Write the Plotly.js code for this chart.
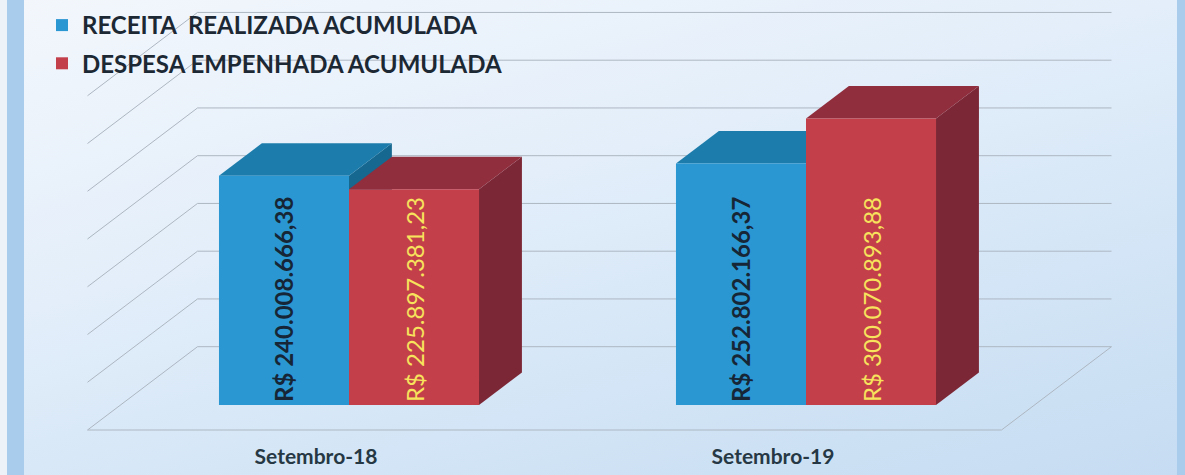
<!DOCTYPE html>
<html>
<head>
<meta charset="utf-8">
<script src="https://cdn.plot.ly/plotly-3.0.1.min.js"></script>
<style>
  html, body { margin: 0; padding: 0; }
  body {
    width: 1185px; height: 475px; overflow: hidden;
    background:
      linear-gradient(to right, #edf2f8 0px, #edf2f8 7px, #a9cbec 7px, #a9cbec 24px, rgba(0,0,0,0) 24px, rgba(0,0,0,0) 1177px, #a9cbec 1177px),
      linear-gradient(165deg, #f3f7fc 0%, #e3eefa 40%, #d3e5f6 70%, #c6dcf2 100%);
  }
  #chart { width: 1185px; height: 475px; }
</style>
</head>
<body>
<div id="chart"></div>
<script>
// ---- data ----
const CATEGORIES = ['Setembro-18', 'Setembro-19'];
const RECEITA = [240008666.38, 252802166.37];
const DESPESA = [225897381.23, 300070893.88];
const SERIES_NAMES = ['RECEITA\u00a0 REALIZADA ACUMULADA', 'DESPESA EMPENHADA ACUMULADA'];
const GRID_VALUES = [0, 50e6, 100e6, 150e6, 200e6, 250e6, 300e6, 350e6];

// ---- geometry of the oblique 3D view ----
const W = 1185, H = 475;
const CAT_PX = 457, CAT0_PX = 316, FLOOR_Y = 430, PX_PER_VAL = 0.955e-6;
const DEPTH_PX = [110, 83.3];
const BAR_D0 = 0.30, BAR_D1 = 0.69, BAR_W = 0.2845;
const XRANGE = [-CAT0_PX / CAT_PX, (W - CAT0_PX) / CAT_PX];
const YRANGE = [(FLOOR_Y - H) / PX_PER_VAL, FLOOR_Y / PX_PER_VAL];
const DXU = DEPTH_PX[0] / CAT_PX;
const DYU = DEPTH_PX[1] / PX_PER_VAL;
function proj(xc, v, d) { return [xc + d * DXU, v + d * DYU]; }
function path(pts) { return 'M' + pts.map(p => p[0] + ',' + p[1]).join('L') + 'Z'; }

const COLORS = {
  blue: { front: '#2a97d3', top: '#1c7cab', side: '#176890' },
  red:  { front: '#c3404b', top: '#902e3d', side: '#7c2735' }
};

function fmtBR(v) {
  const parts = v.toFixed(2).split('.');
  return parts[0].replace(/\B(?=(\d{3})+(?!\d))/g, '.') + ',' + parts[1];
}

// ---- back wall, side wall, floor ----
const shapes = [];
const gridLine = { color: '#adb7c2', width: 1 };
const XL = -0.5, XR = CATEGORIES.length - 0.5;
GRID_VALUES.forEach(v => {
  const a = proj(XL, v, 1), b = proj(XR, v, 1), c = proj(XL, v, 0);
  shapes.push({ type: 'line', xref: 'x', yref: 'y', layer: 'below', x0: a[0], y0: a[1], x1: b[0], y1: b[1], line: gridLine });
  shapes.push({ type: 'line', xref: 'x', yref: 'y', layer: 'below', x0: a[0], y0: a[1], x1: c[0], y1: c[1], line: gridLine });
});
(function () {
  const f0 = proj(XL, 0, 0), f1 = proj(XR, 0, 0), f2 = proj(XR, 0, 1);
  shapes.push({ type: 'line', xref: 'x', yref: 'y', layer: 'below', x0: f0[0], y0: f0[1], x1: f1[0], y1: f1[1], line: gridLine });
  shapes.push({ type: 'line', xref: 'x', yref: 'y', layer: 'below', x0: f1[0], y0: f1[1], x1: f2[0], y1: f2[1], line: gridLine });
})();

// ---- top and side faces of each column ----
function boxFaces(a, b, v, col) {
  const side = [proj(b, 0, BAR_D0), proj(b, v, BAR_D0), proj(b, v, BAR_D1), proj(b, 0, BAR_D1)];
  const top = [proj(a, v, BAR_D0), proj(b, v, BAR_D0), proj(b, v, BAR_D1), proj(a, v, BAR_D1)];
  shapes.push({ type: 'path', xref: 'x', yref: 'y', layer: 'below', path: path(side), fillcolor: col.side, line: { width: 0 } });
  shapes.push({ type: 'path', xref: 'x', yref: 'y', layer: 'below', path: path(top), fillcolor: col.top, line: { width: 0 } });
}
CATEGORIES.forEach((c, i) => {
  boxFaces(i - BAR_W, i, RECEITA[i], COLORS.blue);
  boxFaces(i, i + BAR_W, DESPESA[i], COLORS.red);
});

// ---- front faces (bars) ----
const barX = CATEGORIES.map((c, i) => i + BAR_D0 * DXU);
const barBase = CATEGORIES.map(() => BAR_D0 * DYU);
const traces = [
  {
    type: 'bar', name: SERIES_NAMES[0], legendgroup: 'a',
    x: barX, y: RECEITA, base: barBase, width: BAR_W, offset: -BAR_W,
    marker: { color: COLORS.blue.front, line: { width: 0 } },
    text: RECEITA.map(v => 'R$ ' + fmtBR(v)),
    textposition: 'inside', textangle: -90, insidetextanchor: 'start',
    textfont: { family: 'Lato', size: 24, color: '#172636', weight: 'bold' },
    hoverinfo: 'skip'
  },
  {
    type: 'bar', name: SERIES_NAMES[1], legendgroup: 'b',
    x: barX, y: DESPESA, base: barBase, width: BAR_W, offset: 0,
    marker: { color: COLORS.red.front, line: { width: 0 } },
    text: DESPESA.map(v => 'R$ ' + fmtBR(v)),
    textposition: 'inside', textangle: -90, insidetextanchor: 'start',
    textfont: { family: 'Lato', size: 24, color: '#f7e35c', weight: 'normal' },
    hoverinfo: 'skip'
  }
];

const layout = {
  width: W, height: H,
  margin: { l: 0, r: 0, t: 0, b: 0 },
  paper_bgcolor: 'rgba(0,0,0,0)', plot_bgcolor: 'rgba(0,0,0,0)',
  barmode: 'overlay', hovermode: false,
  showlegend: true,
  legend: {
    x: 42 / W, y: 1 - 3 / H, xanchor: 'left', yanchor: 'top',
    bgcolor: 'rgba(0,0,0,0)', borderwidth: 0,
    traceorder: 'grouped', tracegroupgap: 4,
    font: { family: 'Lato', size: 24, color: '#1c2833', weight: 'bold' }
  },
  xaxis: {
    range: XRANGE, showgrid: false, zeroline: false, showline: false,
    tickmode: 'array', tickvals: CATEGORIES.map((c, i) => i), ticktext: CATEGORIES,
    ticks: '', anchor: 'free', position: 33 / H,
    tickfont: { family: 'Lato', size: 21, color: '#263844', weight: 'bold' }
  },
  yaxis: { range: YRANGE, visible: false, showgrid: false, zeroline: false },
  shapes: shapes
};

Plotly.newPlot('chart', traces, layout, { staticPlot: true, displayModeBar: false });
</script>
</body>
</html>
